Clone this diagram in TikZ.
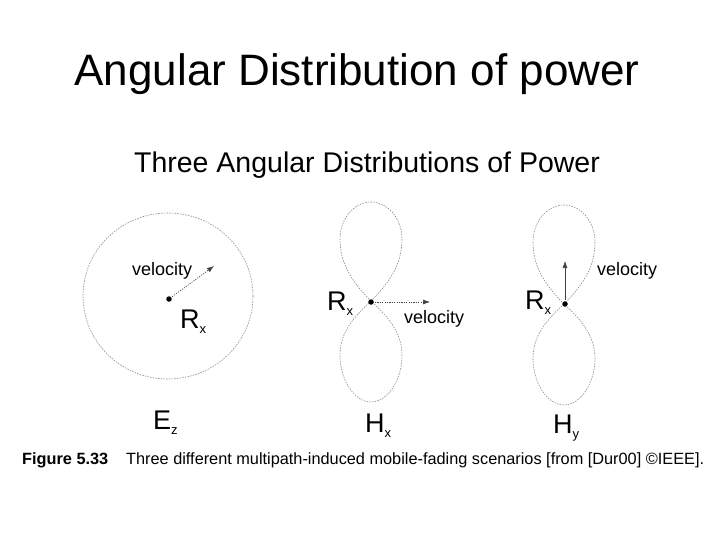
\documentclass[tikz,border=0pt]{standalone}
\usepackage{fontspec}
\setmainfont{Liberation Sans}
\usetikzlibrary{arrows.meta}
\tikzset{
  txt/.style={inner sep=0pt, anchor=base west},
  velo/.style={txt, font=\fontsize{18}{18}\selectfont},
  big/.style={txt, font=\fontsize{27}{27}\selectfont},
  dotn/.style={circle, fill=black, inner sep=0pt, minimum size=5.5pt},
  pattern/.style={draw=black!45, line width=0.6pt, dash pattern=on 1.5pt off 1.2pt},
  velarrow/.style={draw=black!75, line width=0.6pt, dash pattern=on 1.2pt off 1.2pt, -{Latex[length=7pt,width=5pt]}, shorten <=1pt},
  velarrowsolid/.style={draw=black!75, line width=0.6pt, -{Latex[length=7pt,width=5pt]}, shorten <=1pt}
}
\newcommand{\sub}[1]{\raisebox{-5pt}{\fontsize{13}{13}\selectfont #1}}
\newcommand{\drawlobepair}{%
  \path[pattern] (0,0) .. controls (-22,-22) and (-31,-40) .. (-31,-62)
     .. controls (-31,-82) and (-17,-99) .. (0,-99)
     .. controls (17,-99) and (31,-82) .. (31,-62)
     .. controls (31,-40) and (22,-22) .. (0,0);
  \path[pattern] (0,0) .. controls (-22,20) and (-31,35) .. (-31,55)
     .. controls (-31,78) and (-17,101) .. (0,101)
     .. controls (17,101) and (31,78) .. (31,55)
     .. controls (31,35) and (22,20) .. (0,0);
}
\begin{document}
\begin{tikzpicture}[x=1pt, y=-1pt]
\useasboundingbox (0,0) rectangle (720,540);
\fill[white] (0,0) rectangle (720,540);

% titles
\node[inner sep=0pt, anchor=base, font=\fontsize{44}{50}\selectfont] (title) at (357,86) {Angular Distribution of power};
\node[inner sep=0pt, anchor=base, font=\fontsize{28.5}{32}\selectfont] (subtitle) at (367,173) {Three Angular Distributions of Power};

% left: E_z, uniform
\path[pattern] (168,296) ellipse [x radius=85, y radius=83];
\node[dotn] (d1) at (169,299) {};
\coordinate (a1) at (214,266);
\draw[velarrow] (d1) -- (a1);
\node[velo] (v1) at (132,275) {velocity};
\node[big] (r1) at (180,328) {R\sub{x}};
\node[big] (ez) at (153,429) {E\sub{z}};

% middle: H_x
\begin{scope}[shift={(371,301)}]
\drawlobepair
\end{scope}
\node[dotn] (d2) at (371,302) {};
\coordinate (a2) at (430,302);
\draw[velarrow] (d2) -- (a2);
\node[velo] (v2) at (404,323) {velocity};
\node[big] (r2) at (327,310) {R\sub{x}};
\node[big] (hx) at (365,432) {H\sub{x}};

% right: H_y
\begin{scope}[shift={(564,304)}]
\drawlobepair
\end{scope}
\node[dotn] (d3) at (565,304) {};
\coordinate (a3) at (565,261);
\draw[velarrowsolid] (d3) -- (a3);
\node[velo] (v3) at (597,275) {velocity};
\node[big] (r3) at (525,309) {R\sub{x}};
\node[big] (hy) at (553,433) {H\sub{y}};

% caption
\node[txt, font=\fontsize{16.3}{18}\selectfont\bfseries] (fig) at (22,464) {Figure 5.33};
\node[txt, font=\fontsize{16.3}{18}\selectfont] (cap) at (126,464) {Three different multipath-induced mobile-fading scenarios [from [Dur00] ©IEEE].};
\end{tikzpicture}
\end{document}
